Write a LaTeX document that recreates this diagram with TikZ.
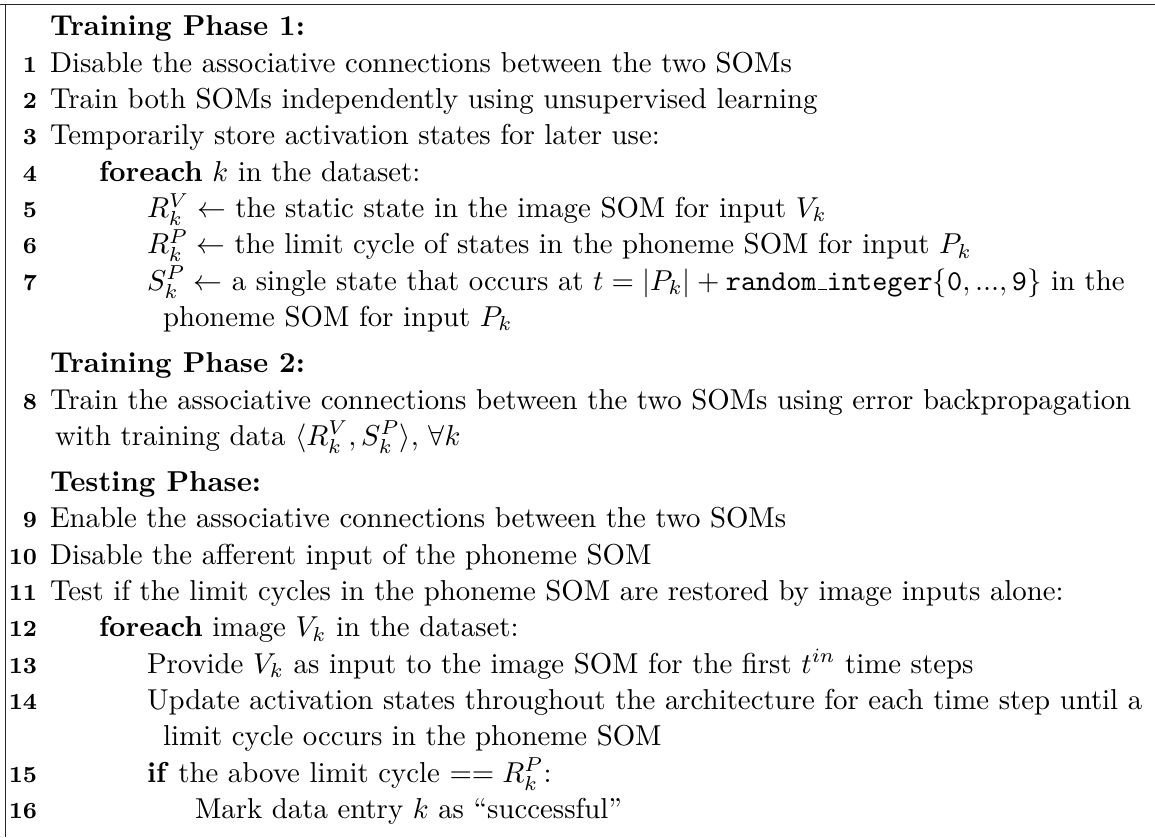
\documentclass[tikz,border=0pt]{standalone}
\usepackage{amsmath}
\newcommand{\ulbar}{\leavevmode\kern.06em\vbox{\hrule width.3em}}
\begin{document}
\begin{tikzpicture}[x=0.34722pt,y=-0.34722pt,
  txt/.style={anchor=base west,inner sep=0pt,outer sep=0pt,font=\normalsize},
  num/.style={anchor=base east,inner sep=0pt,outer sep=0pt,font=\footnotesize\bfseries},
  rule/.style={line width=0.45pt,draw=black!85}]
\useasboundingbox (0,0) rectangle (1155,837);
% frame
\coordinate (tl) at (0,4.5);
\coordinate (tr) at (1155,4.5);
\coordinate (lt) at (5.5,4.5);
\coordinate (lb) at (5.5,837);
\draw[rule] (tl) -- (tr);
\draw[rule] (lt) -- (lb);
% layout parameters
\def\NX{37}
\def\LA{50}\def\LB{99}\def\LC{147}\def\LD{195}\def\HI{16}
% rows
\node[txt] (h1) at (\LA,36) {\textbf{Training Phase 1:}};
\node[num] (n1) at (\NX,72.3) {1};
\node[txt] (l1) at (\LA,72.3) {Disable the associative connections between the two SOMs};
\node[num] (n2) at (\NX,108.6) {2};
\node[txt] (l2) at (\LA,108.6) {Train both SOMs independently using unsupervised learning};
\node[num] (n3) at (\NX,144.9) {3};
\node[txt] (l3) at (\LA,144.9) {Temporarily store activation states for later use:};
\node[num] (n4) at (\NX,181.2) {4};
\node[txt] (l4) at (\LB,181.2) {\textbf{foreach} $k$ in the dataset:};
\node[num] (n5) at (\NX,217.5) {5};
\node[txt] (l5) at (\LC,217.5) {$R_k^V \leftarrow$ the static state in the image SOM for input $V_k$};
\node[num] (n6) at (\NX,253.8) {6};
\node[txt] (l6) at (\LC,253.8) {$R_k^P \leftarrow$ the limit cycle of states in the phoneme SOM for input $P_k$};
\node[num] (n7) at (\NX,290.1) {7};
\node[txt] (l7) at (\LC,290.1) {$S_k^P \leftarrow$ a single state that occurs at $t = |P_k| + \texttt{random\ulbar integer}\{\texttt{0}, ..., \texttt{9}\}$ in the};
\node[txt] (l7b) at (\LC+\HI,326.4) {phoneme SOM for input $P_k$};
\node[txt] (h2) at (\LA,372.7) {\textbf{Training Phase 2:}};
\node[num] (n8) at (\NX,409) {8};
\node[txt] (l8) at (\LA,409) {Train the associative connections between the two SOMs using error backpropagation};
\node[txt] (l8b) at (\LA+5,445.3) {with training data $\langle R_k^V, S_k^P \rangle$, $\forall k$};
\node[txt] (h3) at (\LA,491.6) {\textbf{Testing Phase:}};
\node[num] (n9) at (\NX,527.9) {9};
\node[txt] (l9) at (\LA,527.9) {Enable the associative connections between the two SOMs};
\node[num] (n10) at (\NX,564.2) {10};
\node[txt] (l10) at (\LA,564.2) {Disable the afferent input of the phoneme SOM};
\node[num] (n11) at (\NX,600.5) {11};
\node[txt] (l11) at (\LA,600.5) {Test if the limit cycles in the phoneme SOM are restored by image inputs alone:};
\node[num] (n12) at (\NX,636.8) {12};
\node[txt] (l12) at (\LB,636.8) {\textbf{foreach} image $V_k$ in the dataset:};
\node[num] (n13) at (\NX,673.1) {13};
\node[txt] (l13) at (\LC,673.1) {Provide $V_k$ as input to the image SOM for the first $t^{in}$ time steps};
\node[num] (n14) at (\NX,709.4) {14};
\node[txt] (l14) at (\LC,709.4) {Update activation states throughout the architecture for each time step until a};
\node[txt] (l14b) at (\LC+\HI,745.7) {limit cycle occurs in the phoneme SOM};
\node[num] (n15) at (\NX,782) {15};
\node[txt] (l15) at (\LC,782) {\textbf{if} the above limit cycle $== R_k^P$:};
\node[num] (n16) at (\NX,818.3) {16};
\node[txt] (l16) at (\LD,818.3) {Mark data entry $k$ as ``successful''};
\end{tikzpicture}
\end{document}
